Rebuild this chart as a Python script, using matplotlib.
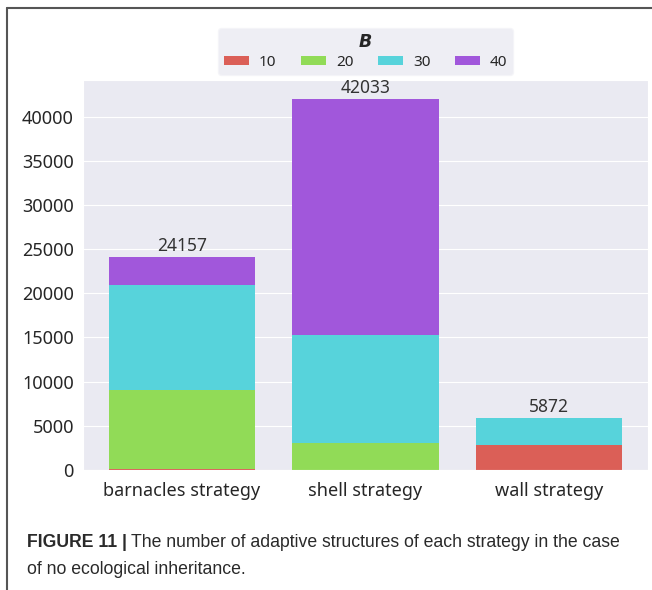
import matplotlib
matplotlib.use("Agg")
import matplotlib.pyplot as plt
import numpy as np
import seaborn as sns
from matplotlib.lines import Line2D

categories = ["barnacles strategy", "shell strategy", "wall strategy"]
b_levels = ["10", "20", "30", "40"]
b10 = [60, 0, 2800]
b20 = [8950, 3000, 0]
b30 = [11890, 12300, 3072]
b40 = [3257, 26733, 0]
totals = [24157, 42033, 5872]

sns.set_style("darkgrid")
plt.rcParams["font.family"] = ["Noto Sans", "DejaVu Sans"]
colors = sns.color_palette("hls", 4)

fig = plt.figure(figsize=(6.52, 5.90), dpi=100)
ax = fig.add_axes([83 / 652, 1 - 470 / 590, 565 / 652, 390 / 590])

x = np.arange(len(categories))
series = [b10, b20, b30, b40]
bottom = np.zeros(len(categories))
for lab, vals, col in zip(b_levels, series, colors):
    ax.bar(x, vals, width=0.8, bottom=bottom, color=col, label=lab, linewidth=0)
    bottom += np.array(vals)

for xi, t, top in zip(x, totals, bottom):
    ax.text(xi, top + 200, str(t), ha="center", va="bottom", fontsize=12.5, color="#333333")

ax.set_xticks(x)
ax.set_xticklabels(categories, fontsize=13)
ax.set_yticks(np.arange(0, 40001, 5000))
ax.tick_params(axis="y", labelsize=13, pad=3)
ax.tick_params(axis="x", pad=5)
ax.grid(False, axis="x")
ax.set_xlim(-0.54, 2.54)
ax.set_ylim(0, 44135)

leg = ax.legend(title="B", ncol=4, loc="upper center", bbox_to_anchor=(0.5, 1.133),
                borderaxespad=0, fontsize=11, handlelength=1.65, handleheight=0.55,
                columnspacing=1.6, handletextpad=0.65, frameon=True, facecolor="#EAEAF2",
                edgecolor="#F4F4F8", borderpad=0.35, labelspacing=0.2)
leg.get_title().set_fontweight("bold")
leg.get_title().set_fontstyle("italic")
leg.get_title().set_fontsize(12.5)
leg.get_title().set_family("DejaVu Sans")

# frame lines of the figure page
fig.add_artist(Line2D([7 / 652, 7 / 652], [0, 1 - 8 / 590], color="#555555", lw=1.5))
fig.add_artist(Line2D([7 / 652, 1], [1 - 8 / 590, 1 - 8 / 590], color="#555555", lw=1.5))

# caption
cap_font = ["Liberation Sans", "DejaVu Sans"]
t1 = fig.text(27 / 652, 1 - 547 / 590, "FIGURE 11 |", fontsize=12.7, fontweight="bold",
              family=cap_font, va="baseline", color="#2a2a2a")
fig.canvas.draw()
bb = t1.get_window_extent()
fig.text((bb.x1 + 4) / 652, 1 - 547 / 590,
         "The number of adaptive structures of each strategy in the case",
         fontsize=12.7, family=cap_font, va="baseline", color="#2a2a2a")
fig.text(27 / 652, 1 - 574 / 590, "of no ecological inheritance.",
         fontsize=12.7, family=cap_font, va="baseline", color="#2a2a2a")

fig.savefig("out.png", dpi=100)
